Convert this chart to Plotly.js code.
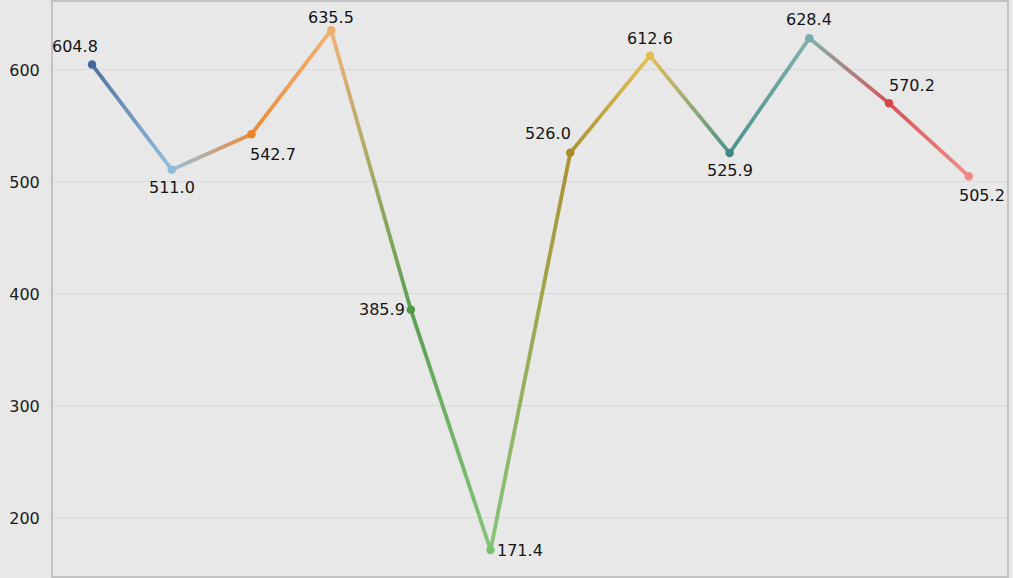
<!DOCTYPE html>
<html>
<head>
<meta charset="utf-8">
<script src="https://cdn.plot.ly/plotly-3.0.1.min.js"></script>
<style>
html,body{margin:0;padding:0;background:#e8e8e8;}
#chart{width:1013px;height:578px;}
</style>
</head>
<body>
<div id="chart"></div>
<script>
// ---- data ----
const categories = [0, 1, 2, 3, 4, 5, 6, 7, 8, 9, 10, 11];
const values = [604.8, 511.0, 542.7, 635.5, 385.9, 171.4, 526.0, 612.6, 525.9, 628.4, 570.2, 505.2];
const labels = ["604.8", "511.0", "542.7", "635.5", "385.9", "171.4", "526.0", "612.6", "525.9", "628.4", "570.2", "505.2"];
const yTicks = [200, 300, 400, 500, 600];

// ---- style ----
const pointColors = ["#42679a", "#8fbbdc", "#ea842a", "#f2ad6c", "#4f9a46", "#7cc26e",
                     "#a88b22", "#e4be4c", "#3f8a86", "#78aca7", "#d6464a", "#f08784"];
const labelShift = [[-17, 18], [0, -18], [22, -20], [0, 13], [-29, 0], [29, 0],
                    [-22, 19], [0, 17], [0, -18], [0, 19], [23, 18], [13, -19]];
const FONT = "DejaVu Sans";

const traces = [];
for (let i = 0; i < values.length - 1; i++) {
  traces.push({
    type: "scatter", mode: "lines",
    x: [categories[i], categories[i + 1]],
    y: [values[i], values[i + 1]],
    line: {color: pointColors[i], width: 3.8},
    hoverinfo: "skip", showlegend: false
  });
}
traces.push({
  type: "scatter", mode: "markers",
  x: categories, y: values,
  marker: {color: pointColors, size: 8.5},
  showlegend: false, cliponaxis: false
});

const annotations = values.map((v, i) => ({
  x: categories[i], y: v, xref: "x", yref: "y",
  text: labels[i], showarrow: false,
  xshift: labelShift[i][0], yshift: labelShift[i][1],
  font: {family: FONT, size: 16, color: "#141414"}
}));

const layout = {
  width: 1013, height: 578,
  margin: {l: 53, r: 6, t: 2, b: 2},
  paper_bgcolor: "#e8e8e8", plot_bgcolor: "#e8e8e8",
  showlegend: false,
  xaxis: {
    range: [-0.49, 11.48], showticklabels: false, showgrid: false, zeroline: false,
    showline: true, mirror: true, linecolor: "#c3c3c3", linewidth: 2, ticks: ""
  },
  yaxis: {
    range: [148.2, 660.7], tickvals: yTicks, ticktext: yTicks.map(String),
    showgrid: true, gridcolor: "#d9d9d9", gridwidth: 1, zeroline: false,
    showline: true, mirror: true, linecolor: "#c3c3c3", linewidth: 2, ticks: "",
    ticklabelstandoff: 8,
    tickfont: {family: FONT, size: 16, color: "#1a1a1a"}
  },
  annotations: annotations
};

const gd = document.getElementById("chart");
Plotly.newPlot(gd, traces, layout, {staticPlot: true, displayModeBar: false}).then(() => {
  const xa = gd._fullLayout.xaxis, ya = gd._fullLayout.yaxis;
  const svg = gd.querySelector("svg.main-svg");
  const NS = "http://www.w3.org/2000/svg";
  let defs = svg.querySelector("defs");
  if (!defs) { defs = document.createElementNS(NS, "defs"); svg.insertBefore(defs, svg.firstChild); }
  const traceGroups = gd.querySelectorAll(".scatterlayer .trace");
  for (let i = 0; i < values.length - 1; i++) {
    const grad = document.createElementNS(NS, "linearGradient");
    grad.setAttribute("id", "seggrad" + i);
    grad.setAttribute("gradientUnits", "userSpaceOnUse");
    grad.setAttribute("x1", xa.l2p(categories[i]));
    grad.setAttribute("y1", ya.l2p(values[i]));
    grad.setAttribute("x2", xa.l2p(categories[i + 1]));
    grad.setAttribute("y2", ya.l2p(values[i + 1]));
    const s1 = document.createElementNS(NS, "stop");
    s1.setAttribute("offset", "0"); s1.setAttribute("stop-color", pointColors[i]);
    const s2 = document.createElementNS(NS, "stop");
    s2.setAttribute("offset", "1"); s2.setAttribute("stop-color", pointColors[i + 1]);
    grad.appendChild(s1); grad.appendChild(s2);
    defs.appendChild(grad);
    const path = traceGroups[i] && traceGroups[i].querySelector("path.js-line");
    if (path) {
      path.style.stroke = "url(#seggrad" + i + ")";
      path.style.strokeOpacity = "0.92";
    }
  }
});
</script>
</body>
</html>
